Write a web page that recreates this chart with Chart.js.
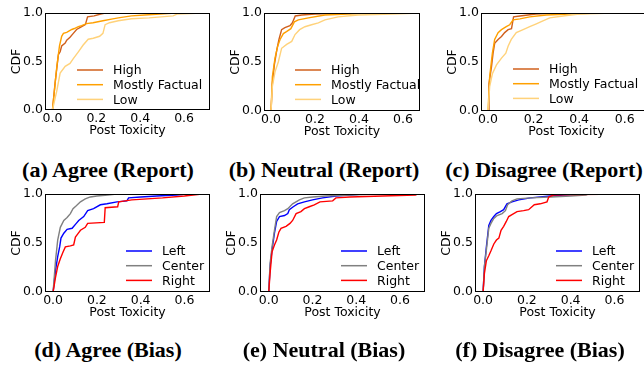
<!DOCTYPE html>
<html>
<head>
<meta charset="utf-8">
<script src="https://cdn.jsdelivr.net/npm/chart.js@4.4.1/dist/chart.umd.min.js"></script>
<style>
  body { margin: 0; background: #fff; width: 644px; height: 369px; overflow: hidden; position: relative; }
  canvas { position: absolute; }
  .cap { position: absolute; font-family: "Liberation Serif", serif; font-weight: bold; font-size: 22px;
         white-space: nowrap; transform: translateX(-50%); color: #000; }
</style>
</head>
<body>
<script>
/*******************************************************************************
 * DATA  (CDF points, [toxicity, cdf])
 */

const xTicks = [0, 0.2, 0.4, 0.6];
const yTicks = [0, 0.5, 1.0];

const reportLabels = ['High', 'Mostly Factual', 'Low'];
const biasLabels = ['Left', 'Center', 'Right'];

const agreeReportHigh = [[0,0],[0.012,0.28],[0.027,0.57],[0.035,0.6],[0.042,0.66],[0.058,0.69],[0.065,0.72],[0.08,0.75],[0.095,0.79],[0.11,0.83],[0.125,0.85],[0.15,0.88],[0.16,0.96],[0.19,0.97],[0.22,0.99],[0.24,1.0]];
const agreeReportMostly = [[0,0],[0.02,0.45],[0.032,0.66],[0.042,0.76],[0.05,0.79],[0.065,0.8],[0.088,0.83],[0.1,0.84],[0.118,0.86],[0.133,0.87],[0.155,0.89],[0.185,0.9],[0.23,0.92],[0.275,0.94],[0.3,0.95],[0.36,0.97],[0.42,0.98],[0.49,0.99],[0.56,1.0]];
const agreeReportLow = [[0,0],[0.02,0.2],[0.035,0.38],[0.058,0.45],[0.08,0.48],[0.095,0.53],[0.118,0.6],[0.14,0.67],[0.163,0.73],[0.186,0.74],[0.215,0.76],[0.23,0.79],[0.24,0.88],[0.26,0.9],[0.3,0.92],[0.36,0.94],[0.44,0.95],[0.55,0.97],[0.57,0.99],[0.68,1.0]];

const neutralReportHigh = [[0,0],[0.006,0.28],[0.015,0.47],[0.026,0.62],[0.036,0.73],[0.048,0.83],[0.063,0.85],[0.086,0.87],[0.097,0.9],[0.11,0.97],[0.14,0.98],[0.2,0.99],[0.35,1.0]];
const neutralReportMostly = [[0,0],[0.006,0.35],[0.018,0.54],[0.03,0.66],[0.041,0.73],[0.056,0.79],[0.07,0.81],[0.09,0.84],[0.106,0.91],[0.124,0.93],[0.17,0.95],[0.245,0.98],[0.35,0.99],[0.47,1.0]];
const neutralReportLow = [[0,0],[0.006,0.25],[0.018,0.4],[0.033,0.5],[0.048,0.64],[0.071,0.68],[0.094,0.71],[0.109,0.78],[0.13,0.83],[0.154,0.86],[0.184,0.88],[0.215,0.9],[0.245,0.93],[0.305,0.96],[0.395,0.98],[0.55,0.99],[0.675,1.0]];

const disagreeReportHigh = [[0,0],[0.004,0.28],[0.015,0.45],[0.022,0.59],[0.029,0.69],[0.044,0.73],[0.059,0.76],[0.073,0.8],[0.088,0.83],[0.103,0.84],[0.112,0.96],[0.14,0.97],[0.21,0.99],[0.3,1.0]];
const disagreeReportMostly = [[0,0],[0.007,0.35],[0.019,0.59],[0.029,0.73],[0.044,0.8],[0.059,0.83],[0.08,0.86],[0.095,0.88],[0.11,0.93],[0.14,0.94],[0.183,0.96],[0.256,0.98],[0.36,0.99],[0.48,1.0]];
const disagreeReportLow = [[0,0],[0.007,0.25],[0.019,0.38],[0.037,0.47],[0.059,0.54],[0.078,0.59],[0.088,0.66],[0.102,0.73],[0.124,0.8],[0.154,0.83],[0.183,0.86],[0.212,0.89],[0.241,0.92],[0.271,0.95],[0.329,0.97],[0.4,0.99],[0.55,1.0]];

const agreeBiasLeft = [[0,0],[0.011,0.22],[0.021,0.36],[0.03,0.46],[0.036,0.55],[0.049,0.6],[0.064,0.64],[0.087,0.65],[0.106,0.7],[0.117,0.73],[0.14,0.77],[0.158,0.83],[0.185,0.85],[0.216,0.89],[0.246,0.9],[0.292,0.92],[0.337,0.93],[0.345,0.96],[0.4,0.97],[0.474,0.98],[0.565,0.99],[0.61,1.0]];
const agreeBiasCenter = [[0,0],[0.011,0.32],[0.021,0.53],[0.033,0.66],[0.049,0.73],[0.064,0.76],[0.079,0.8],[0.091,0.85],[0.106,0.88],[0.125,0.92],[0.147,0.95],[0.17,0.97],[0.2,0.98],[0.25,0.99],[0.29,1.0]];
const agreeBiasRight = [[0,0],[0.011,0.15],[0.021,0.26],[0.033,0.34],[0.046,0.41],[0.056,0.46],[0.079,0.47],[0.094,0.48],[0.102,0.56],[0.112,0.59],[0.125,0.63],[0.147,0.66],[0.158,0.7],[0.234,0.71],[0.238,0.86],[0.295,0.87],[0.3,0.92],[0.36,0.94],[0.5,0.96],[0.6,0.98],[0.68,1.0]];

const neutralBiasLeft = [[0,0],[0.006,0.26],[0.015,0.43],[0.026,0.6],[0.036,0.72],[0.049,0.77],[0.072,0.78],[0.087,0.8],[0.094,0.84],[0.112,0.87],[0.132,0.9],[0.163,0.92],[0.2,0.94],[0.246,0.96],[0.307,0.98],[0.37,0.99],[0.43,1.0]];
const neutralBiasCenter = [[0,0],[0.006,0.29],[0.015,0.46],[0.026,0.63],[0.036,0.77],[0.049,0.81],[0.072,0.83],[0.087,0.85],[0.109,0.9],[0.14,0.94],[0.163,0.96],[0.2,0.97],[0.261,0.98],[0.37,0.99],[0.49,1.0]];
const neutralBiasRight = [[0,0],[0.006,0.19],[0.015,0.41],[0.026,0.48],[0.036,0.53],[0.046,0.61],[0.056,0.65],[0.079,0.67],[0.097,0.7],[0.109,0.73],[0.125,0.8],[0.147,0.82],[0.163,0.85],[0.185,0.87],[0.208,0.89],[0.234,0.92],[0.292,0.93],[0.307,0.96],[0.37,0.97],[0.52,0.98],[0.67,0.99],[0.68,1.0]];

const disagreeBiasLeft = [[0,0],[0.006,0.26],[0.015,0.46],[0.026,0.68],[0.036,0.73],[0.049,0.77],[0.061,0.8],[0.079,0.82],[0.094,0.84],[0.109,0.9],[0.132,0.92],[0.163,0.94],[0.216,0.96],[0.261,0.97],[0.307,0.98],[0.37,0.99],[0.46,1.0]];
const disagreeBiasCenter = [[0,0],[0.006,0.26],[0.015,0.43],[0.026,0.65],[0.036,0.7],[0.049,0.75],[0.064,0.78],[0.087,0.8],[0.102,0.83],[0.112,0.89],[0.132,0.93],[0.155,0.95],[0.216,0.96],[0.307,0.97],[0.4,0.98],[0.47,0.99],[0.48,1.0]];
const disagreeBiasRight = [[0,0],[0.006,0.19],[0.015,0.32],[0.026,0.37],[0.036,0.42],[0.049,0.49],[0.061,0.53],[0.072,0.55],[0.082,0.63],[0.094,0.67],[0.106,0.72],[0.117,0.77],[0.132,0.79],[0.155,0.82],[0.185,0.83],[0.208,0.84],[0.234,0.89],[0.261,0.9],[0.292,0.92],[0.3,0.97],[0.322,0.99],[0.4,0.995],[0.68,1.0]];

/*******************************************************************************
 * STYLE
 */

const reportColors = ['#d0601c', '#ffa000', '#ffd27a'];
const biasColors = ['#0000ff', '#808080', '#ff0000'];
const tickFont = { family: 'DejaVu Sans', size: 12.5 };

const panels = [
  { caption: '(a) Agree (Report)',    L: 45,  T: 13,  W: 165, H: 97, xMin: -0.034, xMax: 0.718, series: [agreeReportHigh, agreeReportMostly, agreeReportLow],          labels: reportLabels, colors: reportColors, legX: 32, legY: 57, capX: 108, capY: 157 },
  { caption: '(b) Neutral (Report)',  L: 264, T: 13,  W: 156, H: 98, xMin: -0.032, xMax: 0.677, series: [neutralReportHigh, neutralReportMostly, neutralReportLow],    labels: reportLabels, colors: reportColors, legX: 31, legY: 57, capX: 324, capY: 157 },
  { caption: '(c) Disagree (Report)', L: 481, T: 13,  W: 171, H: 98, xMin: -0.031, xMax: 0.72,  series: [disagreeReportHigh, disagreeReportMostly, disagreeReportLow], labels: reportLabels, colors: reportColors, legX: 32, legY: 56, capX: 544, capY: 157 },
  { caption: '(d) Agree (Bias)',      L: 45,  T: 194, W: 165, H: 98, xMin: -0.037, xMax: 0.717, series: [agreeBiasLeft, agreeBiasCenter, agreeBiasRight],             labels: biasLabels,   colors: biasColors,   legX: 81, legY: 57, capX: 108, capY: 337 },
  { caption: '(e) Neutral (Bias)',    L: 260, T: 194, W: 165, H: 98, xMin: -0.04,  xMax: 0.714, series: [neutralBiasLeft, neutralBiasCenter, neutralBiasRight],       labels: biasLabels,   colors: biasColors,   legX: 81, legY: 57, capX: 324, capY: 337 },
  { caption: '(f) Disagree (Bias)',   L: 475, T: 194, W: 165, H: 98, xMin: -0.037, xMax: 0.717, series: [disagreeBiasLeft, disagreeBiasCenter, disagreeBiasRight],    labels: biasLabels,   colors: biasColors,   legX: 81, legY: 57, capX: 540, capY: 337 },
];

/*******************************************************************************
 * PLUGINS
 */

// matplotlib style box round the axes
const framePlugin = {
  id: 'frame',
  afterDatasetsDraw(chart) {
    const { ctx, chartArea: a } = chart;
    ctx.save();
    ctx.strokeStyle = '#000';
    ctx.lineWidth = 1;
    ctx.strokeRect(Math.round(a.left) + 0.5, Math.round(a.top) + 0.5, Math.round(a.width) - 1, Math.round(a.height) - 1);
    ctx.restore();
  }
};

// legend drawn inside the plot area, lower right
const insideLegend = {
  id: 'insideLegend',
  afterDraw(chart, args, opts) {
    const { ctx, chartArea: a } = chart;
    ctx.save();
    ctx.font = '12.5px "DejaVu Sans"';
    ctx.textBaseline = 'middle';
    chart.data.datasets.forEach((ds, i) => {
      const y = a.top + opts.y + i * 14.7;
      const x = a.left + opts.x;
      ctx.strokeStyle = ds.borderColor;
      ctx.lineWidth = 1.5;
      ctx.beginPath();
      ctx.moveTo(x, y);
      ctx.lineTo(x + 26, y);
      ctx.stroke();
      ctx.fillStyle = '#000';
      ctx.fillText(ds.label, x + 36, y + 1);
    });
    ctx.restore();
  }
};

/*******************************************************************************
 * CHARTS
 */

function renderPanel(p) {
  const padL = 45, padT = 10, padR = 6, padB = 30;
  const cv = document.createElement('canvas');
  cv.width = p.W + padL + padR;
  cv.height = p.H + padT + padB;
  cv.style.left = (p.L - padL) + 'px';
  cv.style.top = (p.T - padT) + 'px';
  document.body.appendChild(cv);

  const n = p.series.length;

  new Chart(cv, {
    type: 'line',
    data: {
      datasets: p.series.map((s, i) => ({
        label: p.labels[i],
        data: s.map(([x, y]) => ({ x, y })),
        borderColor: p.colors[i],
        borderWidth: 1.4,
        pointRadius: 0,
        tension: 0,
        fill: false,
        order: n - i,
      })),
    },
    options: {
      responsive: false,
      animation: false,
      events: [],
      layout: { padding: { top: padT, right: padR, left: 0, bottom: 0 } },
      plugins: {
        legend: { display: false },
        tooltip: { enabled: false },
        insideLegend: { x: p.legX, y: p.legY },
      },
      scales: {
        x: {
          type: 'linear',
          min: p.xMin,
          max: p.xMax,
          afterBuildTicks: (s) => { s.ticks = xTicks.map(v => ({ value: v })); },
          afterFit: (s) => { s.height = padB; },
          grid: { display: false, drawTicks: false },
          border: { display: false },
          ticks: { padding: 1, autoSkip: false, maxRotation: 0, color: '#000', font: tickFont,
                   callback: (v) => v.toFixed(1) },
          title: { display: true, text: 'Post Toxicity', color: '#000', font: tickFont,
                   padding: { top: 0, bottom: 2 } },
        },
        y: {
          type: 'linear',
          min: 0,
          max: 1,
          afterBuildTicks: (s) => { s.ticks = yTicks.map(v => ({ value: v })); },
          afterFit: (s) => { s.width = padL; },
          grid: { display: false, drawTicks: false },
          border: { display: false },
          ticks: { padding: 2, autoSkip: false, color: '#000', font: tickFont,
                   callback: (v) => v.toFixed(1) },
          title: { display: true, text: 'CDF', color: '#000', font: tickFont,
                   padding: { top: 9, bottom: 0 } },
        },
      },
    },
    plugins: [framePlugin, insideLegend],
  });

  const cap = document.createElement('div');
  cap.className = 'cap';
  cap.textContent = p.caption;
  cap.style.left = p.capX + 'px';
  cap.style.top = p.capY + 'px';
  document.body.appendChild(cap);
}

panels.forEach(renderPanel);
</script>
</body>
</html>
